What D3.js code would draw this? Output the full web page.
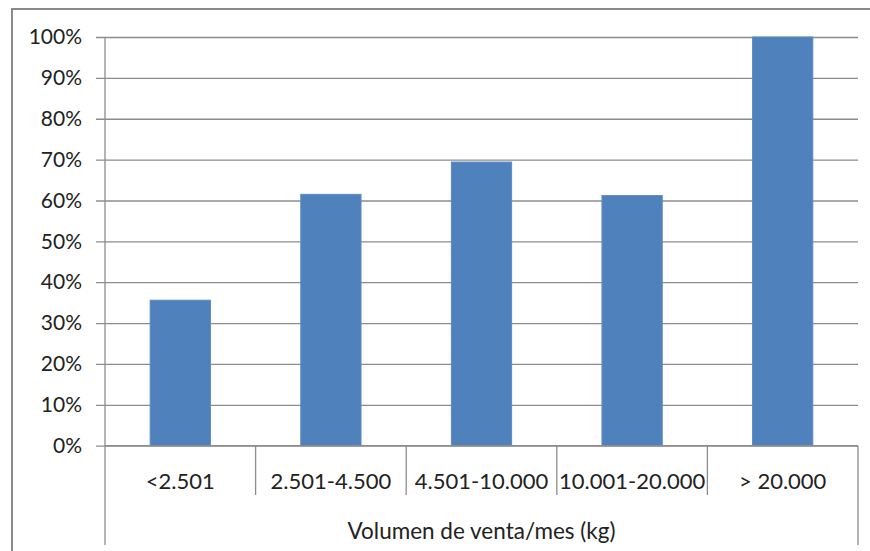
<!DOCTYPE html>
<html><head><meta charset="utf-8">
<script src="https://cdn.jsdelivr.net/npm/d3@7"></script>
<style>body{margin:0;background:#fff}svg{display:block}text{font-family:Lato,"Open Sans",sans-serif;fill:#222}</style>
</head><body><svg id="c" width="870" height="551"></svg>
<script>
const categories = ["<2.501","2.501-4.500","4.501-10.000","10.001-20.000","> 20.000"];
const values = [0.356, 0.615, 0.694, 0.612, 1.0];
const yTicks = [0,0.1,0.2,0.3,0.4,0.5,0.6,0.7,0.8,0.9,1.0];
const xTitle = "Volumen de venta/mes (kg)";

const svg = d3.select("#c");
const L = 105, R = 858, T = 37, B = 445.7;
const x = d3.scaleBand().domain(categories).range([L, R]).paddingInner(0.6).paddingOuter(0.3);
const xb = d3.scaleBand().domain(categories).range([L, R]);
const y = d3.scaleLinear().domain([0, 1]).range([B, T]);

// outer border
svg.append("rect").attr("x", 12).attr("y", 9).attr("width", 900).attr("height", 600)
  .attr("fill", "none").attr("stroke", "#8a8a8a").attr("stroke-width", 2);

// gridlines + y labels
const yAxis = d3.axisLeft(y).tickValues(yTicks).tickFormat(d3.format(".0%")).tickSize(-(R - L)).tickPadding(14);
const gy = svg.append("g").attr("transform", `translate(${L},0)`).call(yAxis);
gy.select(".domain").remove();
gy.selectAll(".tick line").attr("x1", -9).attr("stroke", "#8c8c8c").attr("stroke-width", 1.3);
gy.selectAll(".tick text").style("font-size", "21px").attr("x", -23).attr("fill", "#222");

// bars
svg.append("g").selectAll("rect").data(values).join("rect")
  .attr("x", (d, i) => x(categories[i]))
  .attr("width", x.bandwidth())
  .attr("y", d => y(d))
  .attr("height", d => y(0) - y(d))
  .attr("fill", "#4F81BD").attr("stroke", "#5a8ac6").attr("stroke-width", 1);

// axis lines
const axc = "#8c8c8c";
svg.append("line").attr("x1", L).attr("x2", L).attr("y1", T).attr("y2", 545).attr("stroke", axc).attr("stroke-width", 1.3);
svg.append("line").attr("x1", R).attr("x2", R).attr("y1", B).attr("y2", 545).attr("stroke", axc).attr("stroke-width", 1.3);
svg.append("line").attr("x1", L).attr("x2", R).attr("y1", B).attr("y2", B).attr("stroke", axc).attr("stroke-width", 1.3);
svg.append("g").selectAll("line").data(categories.slice(1)).join("line")
  .attr("x1", d => xb(d)).attr("x2", d => xb(d)).attr("y1", B).attr("y2", 495)
  .attr("stroke", axc).attr("stroke-width", 1.3);

// category labels
svg.append("g").selectAll("text").data(categories).join("text")
  .attr("x", d => xb(d) + xb.bandwidth() / 2).attr("y", 480)
  .attr("text-anchor", "middle").attr("dominant-baseline", "central")
  .style("font-size", "22px").text(d => d);

svg.append("text").attr("x", (L + R) / 2).attr("y", 530)
  .attr("text-anchor", "middle").attr("dominant-baseline", "central")
  .style("font-size", "22.5px").text(xTitle);
</script></body></html>
